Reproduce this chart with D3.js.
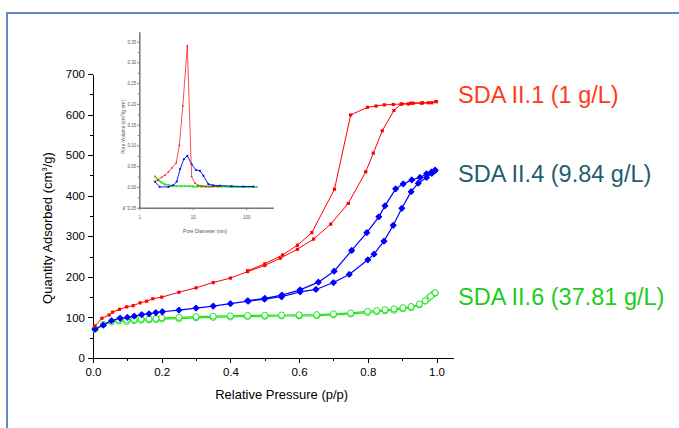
<!doctype html>
<html>
<head>
  <script src="https://cdnjs.cloudflare.com/ajax/libs/d3/7.8.5/d3.min.js"></script>
  <style>
    body { margin: 0; background: #fff; }
    svg { font-family: "Liberation Sans", Arial, sans-serif; }
    .axis path, .axis line { stroke: #000; shape-rendering: crispEdges; }
    .axis text { font-size: 11.5px; fill: #000; }
    .inset path, .inset line { stroke: #777; }
    .inset text { font-size: 4.5px; fill: #555; }
  </style>
</head>
<body>
<svg width="679" height="428"></svg>
<script>
// isotherms: [relative pressure, quantity adsorbed]
var sda1Ads = [[0.006,79],[0.026,98],[0.047,106],[0.057,113],[0.077,120],[0.098,126],[0.117,129],[0.137,136],[0.156,140],[0.174,146],[0.2,150],[0.25,162],[0.30,173],[0.35,186],[0.40,197],[0.45,213],[0.50,228],[0.545,246],[0.595,268],[0.642,293],[0.692,330],[0.743,381],[0.794,459],[0.816,505],[0.842,560],[0.876,610],[0.897,626],[0.925,628],[0.959,629],[0.986,629],[0.999,632]];
var sda1Des = [[0.999,632],[0.976,629],[0.956,628],[0.932,628],[0.918,626],[0.899,626],[0.874,625],[0.848,624],[0.824,621],[0.799,618],[0.75,599],[0.703,416],[0.637,309],[0.595,278],[0.552,254],[0.50,232],[0.45,215]];
var sda4Ads = [[0.006,71],[0.03,81],[0.054,92],[0.079,98],[0.10,100],[0.12,103],[0.142,107],[0.163,109],[0.183,112],[0.202,114],[0.25,118],[0.30,123],[0.35,128],[0.40,134],[0.452,140],[0.499,145],[0.549,151],[0.603,163],[0.649,169],[0.70,186],[0.746,206],[0.80,242],[0.818,256],[0.847,288],[0.874,327],[0.899,369],[0.926,410],[0.947,431],[0.971,445],[0.986,455],[0.996,462]];
var sda4Des = [[0.996,463],[0.986,459],[0.971,454],[0.952,445],[0.928,439],[0.903,429],[0.881,417],[0.85,375],[0.832,348],[0.797,309],[0.753,265],[0.702,214],[0.656,187],[0.603,168],[0.55,155],[0.50,147],[0.45,141]];
var sda6Ads = [[0.006,71],[0.03,83],[0.054,89],[0.075,91],[0.098,90],[0.12,92],[0.14,93],[0.163,93.6],[0.183,94.5],[0.2,96],[0.25,97],[0.30,99],[0.35,100],[0.40,101],[0.45,102],[0.5,102.5],[0.549,103.5],[0.60,103.5],[0.651,104],[0.70,106],[0.75,108],[0.799,112],[0.826,114],[0.85,116],[0.876,117.5],[0.902,121],[0.926,124],[0.95,131],[0.967,140],[0.976,147],[0.983,153],[0.991,158],[0.996,160]];
var sda6Des = [[0.996,161],[0.983,152],[0.967,141],[0.95,133],[0.926,127],[0.902,124],[0.876,121],[0.85,119],[0.826,117],[0.799,115],[0.75,111],[0.70,109],[0.651,107],[0.60,106.5],[0.549,106],[0.5,105.5],[0.45,105],[0.40,104],[0.35,103],[0.30,102],[0.25,100],[0.2,99],[0.183,97.5],[0.163,97],[0.14,96],[0.12,95],[0.098,94],[0.075,94]];

// pore size distribution (inset): [pore diameter nm, pore volume]
var psd1 = [[1.97,0.014],[2.27,0.017],[2.6,0.023],[3.0,0.028],[3.5,0.036],[4.1,0.046],[4.9,0.058],[5.6,0.10],[6.5,0.195],[7.9,0.34],[9.5,0.025],[11,0.009],[12.7,0.004],[15,0.002],[18,0.001],[22,0.001],[30,0.001]];
var psd4 = [[1.97,0.012],[2.4,0.0],[3.5,0.0],[4.3,0.004],[5.0,0.013],[5.8,0.043],[6.8,0.067],[7.9,0.075],[9.5,0.055],[11.4,0.041],[13.6,0.039],[15.8,0.027],[19.5,0.007],[24,0.004],[32,0.003],[53,0.002],[88,0.001],[135,0.001]];
var psd6 = [[1.97,0.025],[2.27,0.016],[2.6,0.011],[3.0,0.006],[3.6,0.004],[4.2,0.003],[5.0,0.002],[6,0.002],[7.1,0.002],[8.5,0.002],[10,0.001],[12,0.001],[14.3,0.001],[17,0.001],[20,0.001],[24,0.001],[29,0.001],[34,0.001],[41,0.001],[49,0],[58,0],[69,0],[82,0],[98,0],[117,0],[139,0],[156,0]];

var xTicks = [0, 0.2, 0.4, 0.6, 0.8, 1.0];
var yTicks = [0, 100, 200, 300, 400, 500, 600, 700];
var insetYTicks = [-0.05, 0, 0.05, 0.10, 0.15, 0.20, 0.25, 0.30, 0.35];
var insetXTicks = [1, 10, 100];
var labels = ["SDA II.1 (1 g/L)", "SDA II.4 (9.84 g/L)", "SDA II.6 (37.81 g/L)"];
var labelColors = ["#ff3a1c", "#1f5e6e", "#1ecc1e"];

var svg = d3.select("svg");

// outer frame
svg.append("rect").attr("x", 7).attr("y", 13).attr("width", 700).attr("height", 500)
  .attr("fill", "none").attr("stroke", "#5b8bc9").attr("stroke-width", 2);

var x = d3.scaleLinear().domain([0, 1.05]).range([93, 453.7]);
var y = d3.scaleLinear().domain([0, 700]).range([358, 74]);

// minor ticks first
svg.append("g").attr("class", "axis").attr("transform", "translate(0,358)")
  .call(d3.axisBottom(x).tickValues(d3.range(0.1, 1.05, 0.2)).tickSize(3).tickFormat(""))
  .select(".domain").remove();
svg.append("g").attr("class", "axis").attr("transform", "translate(93,0)")
  .call(d3.axisLeft(y).tickValues(d3.range(50, 700, 100)).tickSize(3).tickFormat(""))
  .select(".domain").remove();

svg.append("g").attr("class", "axis").attr("transform", "translate(0,358)")
  .call(d3.axisBottom(x).tickValues(xTicks).tickSize(5).tickSizeOuter(0).tickFormat(d3.format(".1f")))
  .selectAll("text").attr("dy", "0.9em");
svg.append("g").attr("class", "axis").attr("transform", "translate(93,0)")
  .call(d3.axisLeft(y).tickValues(yTicks).tickSize(5).tickSizeOuter(0));

svg.append("text").attr("x", 281.7).attr("y", 399).attr("text-anchor", "middle")
  .attr("font-size", 13).text("Relative Pressure (p/p)");
var yl = svg.append("text").attr("transform", "translate(52,228) rotate(-90)")
  .attr("text-anchor", "middle").attr("font-size", 13);
yl.append("tspan").text("Quantity Adsorbed (cm");
yl.append("tspan").attr("font-size", 8).attr("dy", -5).text("3");
yl.append("tspan").attr("dy", 5).text("/g)");

var line = d3.line().x(d => x(d[0])).y(d => y(d[1]));

function series(data, color, width, marker) {
  var g = svg.append("g");
  g.append("path").attr("d", line(data)).attr("fill", "none")
    .attr("stroke", color).attr("stroke-width", width);
  if (marker == "square") {
    g.selectAll("rect").data(data).enter().append("rect")
      .attr("x", d => x(d[0]) - 1.6).attr("y", d => y(d[1]) - 1.6)
      .attr("width", 3.2).attr("height", 3.2).attr("fill", color);
  } else if (marker == "diamond") {
    g.selectAll("path.m").data(data).enter().append("path").attr("class", "m")
      .attr("d", d3.symbol(d3.symbolSquare, 14)())
      .attr("transform", d => "translate(" + x(d[0]) + "," + y(d[1]) + ") rotate(45)")
      .attr("fill", color).attr("stroke", color).attr("stroke-width", 1.4)
      .attr("stroke-linejoin", "round");
  } else {
    g.selectAll("circle").data(data).enter().append("circle")
      .attr("cx", d => x(d[0])).attr("cy", d => y(d[1])).attr("r", 3)
      .attr("fill", "#fff").attr("stroke", color).attr("stroke-width", 1);
  }
}

series(sda6Ads, "#22e622", 1.2, "circle");
series(sda6Des, "#22e622", 1.2, "circle");
series(sda4Ads, "#0000ff", 1.2, "diamond");
series(sda4Des, "#0000ff", 1.2, "diamond");
series(sda1Ads, "#ff0000", 1, "square");
series(sda1Des, "#ff0000", 1, "square");

// legend labels
var labelY = [103, 181.5, 305];
labels.forEach(function(t, i) {
  svg.append("text").attr("x", 458).attr("y", labelY[i]).attr("font-size", 23.5)
    .attr("fill", labelColors[i]).text(t);
});

// inset
var ix = d3.scaleLog().domain([1, 320]).range([139.3, 273.3]);
var iy = d3.scaleLinear().domain([-0.05, 0.374]).range([207.7, 31.7]);
var minorLog = [2,3,4,5,6,7,8,9,20,30,40,50,60,70,80,90,200,300];

svg.append("g").attr("class", "inset").attr("transform", "translate(0,207.7)")
  .call(d3.axisBottom(ix).tickValues(minorLog).tickSize(1.5).tickFormat(""))
  .select(".domain").remove();
svg.append("g").attr("class", "inset").attr("transform", "translate(139.3,0)")
  .call(d3.axisLeft(iy).tickValues(d3.range(-0.025, 0.37, 0.05)).tickSize(1.5).tickFormat(""))
  .select(".domain").remove();
svg.append("g").attr("class", "inset").attr("transform", "translate(0,207.7)")
  .call(d3.axisBottom(ix).tickValues(insetXTicks).tickSize(2.5).tickSizeOuter(0).tickFormat(d3.format("d")))
  .call(g => g.select(".domain").attr("stroke-width", 1.5))
  .selectAll("text").attr("dy", "1.4em");
svg.append("g").attr("class", "inset").attr("transform", "translate(139.3,0)")
  .call(d3.axisLeft(iy).tickValues(insetYTicks).tickSize(2).tickPadding(1).tickSizeOuter(0).tickFormat(d3.format(".2f")))
  .call(g => g.select(".domain").attr("stroke-width", 1.5));

svg.append("text").attr("x", 205).attr("y", 233).attr("text-anchor", "middle")
  .attr("font-size", 5).attr("fill", "#555").text("Pore Diameter (nm)");
var il = svg.append("text").attr("transform", "translate(124.5,127) rotate(-90)")
  .attr("text-anchor", "middle").attr("font-size", 5).attr("fill", "#555");
il.append("tspan").text("Pore Volume (cm");
il.append("tspan").attr("font-size", 3).attr("dy", -2).text("3");
il.append("tspan").attr("dy", 2).text("/g nm)");

var iline = d3.line().x(d => ix(d[0])).y(d => iy(d[1]));
function insetSeries(data, color, width, size) {
  var g = svg.append("g");
  g.append("path").attr("d", iline(data)).attr("fill", "none")
    .attr("stroke", color).attr("stroke-width", width);
  g.selectAll("rect").data(data).enter().append("rect")
    .attr("x", d => ix(d[0]) - size / 2).attr("y", d => iy(d[1]) - size / 2)
    .attr("width", size).attr("height", size).attr("fill", color);
}
insetSeries(psd6, "#22e622", 1.4, 2);
insetSeries(psd4, "#0000ff", 0.9, 1.8);
insetSeries(psd1, "#ff0000", 0.7, 1.4);
</script>
</body>
</html>
